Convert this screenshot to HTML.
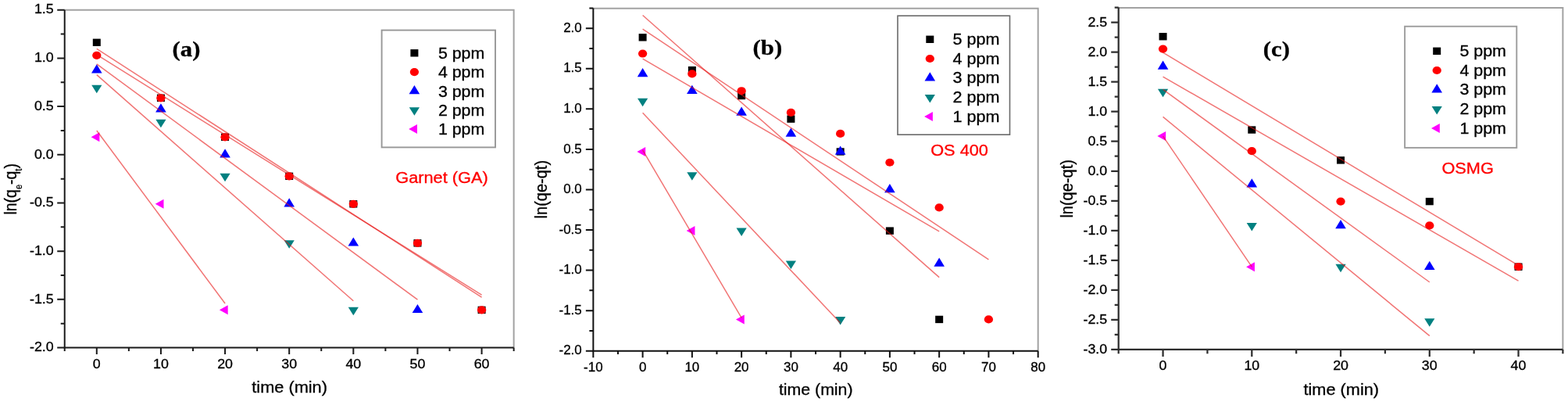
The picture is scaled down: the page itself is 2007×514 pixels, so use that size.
<!DOCTYPE html>
<html><head><meta charset="utf-8"><title>Kinetic plots</title>
<style>html,body{margin:0;padding:0;background:#fff;} svg{display:block;}</style>
</head><body>
<svg width="2007" height="514" viewBox="0 0 2007 514">

<rect width="2007" height="514" fill="#fff"/>
<g>
<rect width="2007" height="514" fill="#fff"/>
<path d="M82.73,12.75 H657.64 V444.54" fill="none" stroke="#a2a2a2" stroke-width="2"/>
<rect x="118.80" y="49.60" width="10.0" height="9.4" fill="#000"/>
<rect x="200.93" y="120.58" width="10.0" height="9.4" fill="#000"/>
<rect x="283.06" y="170.61" width="10.0" height="9.4" fill="#000"/>
<rect x="365.19" y="220.63" width="10.0" height="9.4" fill="#000"/>
<rect x="447.32" y="256.12" width="10.0" height="9.4" fill="#000"/>
<rect x="529.45" y="306.14" width="10.0" height="9.4" fill="#000"/>
<rect x="611.58" y="391.66" width="10.0" height="9.4" fill="#000"/>
<ellipse cx="123.80" cy="70.78" rx="5.65" ry="5.1" fill="#ff0000"/>
<ellipse cx="205.93" cy="125.28" rx="5.65" ry="5.1" fill="#ff0000"/>
<ellipse cx="288.06" cy="175.31" rx="5.65" ry="5.1" fill="#ff0000"/>
<ellipse cx="370.19" cy="225.33" rx="5.65" ry="5.1" fill="#ff0000"/>
<ellipse cx="452.32" cy="260.82" rx="5.65" ry="5.1" fill="#ff0000"/>
<ellipse cx="534.45" cy="310.84" rx="5.65" ry="5.1" fill="#ff0000"/>
<ellipse cx="616.58" cy="396.36" rx="5.65" ry="5.1" fill="#ff0000"/>
<polygon points="117.00,93.53 130.60,93.53 123.80,82.33" fill="#0000ff"/>
<polygon points="199.13,143.55 212.73,143.55 205.93,132.35" fill="#0000ff"/>
<polygon points="281.26,201.53 294.86,201.53 288.06,190.33" fill="#0000ff"/>
<polygon points="363.39,264.55 376.99,264.55 370.19,253.35" fill="#0000ff"/>
<polygon points="445.52,314.58 459.12,314.58 452.32,303.38" fill="#0000ff"/>
<polygon points="527.65,400.09 541.25,400.09 534.45,388.89" fill="#0000ff"/>
<polygon points="117.20,108.79 130.40,108.79 123.80,119.29" fill="#008080"/>
<polygon points="199.33,152.79 212.53,152.79 205.93,163.29" fill="#008080"/>
<polygon points="281.46,221.83 294.66,221.83 288.06,232.33" fill="#008080"/>
<polygon points="363.59,307.34 376.79,307.34 370.19,317.84" fill="#008080"/>
<polygon points="445.72,392.86 458.92,392.86 452.32,403.36" fill="#008080"/>
<polygon points="127.40,169.31 127.40,181.31 116.60,175.31" fill="#ff00ff"/>
<polygon points="209.53,254.82 209.53,266.82 198.73,260.82" fill="#ff00ff"/>
<polygon points="291.66,390.36 291.66,402.36 280.86,396.36" fill="#ff00ff"/>
<line x1="123.80" y1="62.31" x2="616.58" y2="380.05" stroke="#e81818" stroke-width="1.5" stroke-opacity="0.6"/>
<line x1="123.80" y1="69.96" x2="616.58" y2="377.11" stroke="#e81818" stroke-width="1.5" stroke-opacity="0.6"/>
<line x1="123.80" y1="81.93" x2="534.45" y2="383.21" stroke="#e81818" stroke-width="1.5" stroke-opacity="0.6"/>
<line x1="123.80" y1="95.68" x2="452.32" y2="384.76" stroke="#e81818" stroke-width="1.5" stroke-opacity="0.6"/>
<line x1="123.80" y1="166.97" x2="288.06" y2="388.02" stroke="#e81818" stroke-width="1.5" stroke-opacity="0.6"/>
<path d="M82.73,12.75 V444.54 H657.64" fill="none" stroke="#1a1a1a" stroke-width="2.0"/>
<path d="M123.80,444.54v8.5 M205.93,444.54v8.5 M288.06,444.54v8.5 M370.19,444.54v8.5 M452.32,444.54v8.5 M534.45,444.54v8.5 M616.58,444.54v8.5 M82.73,444.54v4.5 M164.87,444.54v4.5 M247.00,444.54v4.5 M329.12,444.54v4.5 M411.25,444.54v4.5 M493.38,444.54v4.5 M575.51,444.54v4.5 M657.64,444.54v4.5 M82.73,444.54h-9.5 M82.73,382.86h-9.5 M82.73,321.17h-9.5 M82.73,259.49h-9.5 M82.73,197.80h-9.5 M82.73,136.12h-9.5 M82.73,74.43h-9.5 M82.73,12.75h-9.5 M82.73,413.70h-5 M82.73,352.01h-5 M82.73,290.33h-5 M82.73,228.64h-5 M82.73,166.96h-5 M82.73,105.27h-5 M82.73,43.59h-5" stroke="#1a1a1a" stroke-width="2.0" fill="none"/>
<text transform="translate(123.80,470.54) scale(1.115,1)" text-anchor="middle" font-family='"Liberation Sans", Arial, sans-serif' font-size="16.0" font-weight="normal" fill="#000" stroke="#000" stroke-width="0.3">0</text>
<text transform="translate(205.93,470.54) scale(1.115,1)" text-anchor="middle" font-family='"Liberation Sans", Arial, sans-serif' font-size="16.0" font-weight="normal" fill="#000" stroke="#000" stroke-width="0.3">10</text>
<text transform="translate(288.06,470.54) scale(1.115,1)" text-anchor="middle" font-family='"Liberation Sans", Arial, sans-serif' font-size="16.0" font-weight="normal" fill="#000" stroke="#000" stroke-width="0.3">20</text>
<text transform="translate(370.19,470.54) scale(1.115,1)" text-anchor="middle" font-family='"Liberation Sans", Arial, sans-serif' font-size="16.0" font-weight="normal" fill="#000" stroke="#000" stroke-width="0.3">30</text>
<text transform="translate(452.32,470.54) scale(1.115,1)" text-anchor="middle" font-family='"Liberation Sans", Arial, sans-serif' font-size="16.0" font-weight="normal" fill="#000" stroke="#000" stroke-width="0.3">40</text>
<text transform="translate(534.45,470.54) scale(1.115,1)" text-anchor="middle" font-family='"Liberation Sans", Arial, sans-serif' font-size="16.0" font-weight="normal" fill="#000" stroke="#000" stroke-width="0.3">50</text>
<text transform="translate(616.58,470.54) scale(1.115,1)" text-anchor="middle" font-family='"Liberation Sans", Arial, sans-serif' font-size="16.0" font-weight="normal" fill="#000" stroke="#000" stroke-width="0.3">60</text>
<text transform="translate(68.73,449.24) scale(1.115,1)" text-anchor="end" font-family='"Liberation Sans", Arial, sans-serif' font-size="16.0" font-weight="normal" fill="#000" stroke="#000" stroke-width="0.3">-2.0</text>
<text transform="translate(68.73,387.56) scale(1.115,1)" text-anchor="end" font-family='"Liberation Sans", Arial, sans-serif' font-size="16.0" font-weight="normal" fill="#000" stroke="#000" stroke-width="0.3">-1.5</text>
<text transform="translate(68.73,325.87) scale(1.115,1)" text-anchor="end" font-family='"Liberation Sans", Arial, sans-serif' font-size="16.0" font-weight="normal" fill="#000" stroke="#000" stroke-width="0.3">-1.0</text>
<text transform="translate(68.73,264.19) scale(1.115,1)" text-anchor="end" font-family='"Liberation Sans", Arial, sans-serif' font-size="16.0" font-weight="normal" fill="#000" stroke="#000" stroke-width="0.3">-0.5</text>
<text transform="translate(68.73,202.50) scale(1.115,1)" text-anchor="end" font-family='"Liberation Sans", Arial, sans-serif' font-size="16.0" font-weight="normal" fill="#000" stroke="#000" stroke-width="0.3">0.0</text>
<text transform="translate(68.73,140.81) scale(1.115,1)" text-anchor="end" font-family='"Liberation Sans", Arial, sans-serif' font-size="16.0" font-weight="normal" fill="#000" stroke="#000" stroke-width="0.3">0.5</text>
<text transform="translate(68.73,79.13) scale(1.115,1)" text-anchor="end" font-family='"Liberation Sans", Arial, sans-serif' font-size="16.0" font-weight="normal" fill="#000" stroke="#000" stroke-width="0.3">1.0</text>
<text transform="translate(68.73,17.45) scale(1.115,1)" text-anchor="end" font-family='"Liberation Sans", Arial, sans-serif' font-size="16.0" font-weight="normal" fill="#000" stroke="#000" stroke-width="0.3">1.5</text>
<rect x="488.6" y="38.6" width="145.40" height="149.80" fill="none" stroke="#979797" stroke-width="1.9"/>
<rect x="525.40" y="63.10" width="10.0" height="9.4" fill="#000"/>
<text transform="translate(560.90,74.90) scale(1.097,1)" text-anchor="start" font-family='"Liberation Sans", Arial, sans-serif' font-size="19.5" font-weight="normal" fill="#000" stroke="#000" stroke-width="0.3">5 ppm</text>
<ellipse cx="530.40" cy="92.10" rx="5.65" ry="5.1" fill="#ff0000"/>
<text transform="translate(560.90,99.20) scale(1.097,1)" text-anchor="start" font-family='"Liberation Sans", Arial, sans-serif' font-size="19.5" font-weight="normal" fill="#000" stroke="#000" stroke-width="0.3">4 ppm</text>
<polygon points="523.60,120.13 537.20,120.13 530.40,108.93" fill="#0000ff"/>
<text transform="translate(560.90,123.50) scale(1.097,1)" text-anchor="start" font-family='"Liberation Sans", Arial, sans-serif' font-size="19.5" font-weight="normal" fill="#000" stroke="#000" stroke-width="0.3">3 ppm</text>
<polygon points="523.80,137.20 537.00,137.20 530.40,147.70" fill="#008080"/>
<text transform="translate(560.90,147.80) scale(1.097,1)" text-anchor="start" font-family='"Liberation Sans", Arial, sans-serif' font-size="19.5" font-weight="normal" fill="#000" stroke="#000" stroke-width="0.3">2 ppm</text>
<polygon points="534.00,159.00 534.00,171.00 523.20,165.00" fill="#ff00ff"/>
<text transform="translate(560.90,172.10) scale(1.097,1)" text-anchor="start" font-family='"Liberation Sans", Arial, sans-serif' font-size="19.5" font-weight="normal" fill="#000" stroke="#000" stroke-width="0.3">1 ppm</text>
<text transform="translate(220.50,72.10) scale(1.12,1)" text-anchor="start" font-family='"Liberation Serif", "Times New Roman", serif' font-size="27.5" font-weight="bold" fill="#000" stroke="#000" stroke-width="0.3">(a)</text>
<text transform="translate(506.30,233.80) scale(1.115,1)" text-anchor="start" font-family='"Liberation Sans", Arial, sans-serif' font-size="19.5" font-weight="normal" fill="#ff0000" stroke="#ff0000" stroke-width="0.3">Garnet (GA)</text>
<text transform="translate(322.30,501.80) scale(1.115,1)" text-anchor="start" font-family='"Liberation Sans", Arial, sans-serif' font-size="19.5" font-weight="normal" fill="#000" stroke="#000" stroke-width="0.3">time (min)</text>
<path d="M759.34,10.70 H1328.68 V448.70" fill="none" stroke="#a2a2a2" stroke-width="2"/>
<rect x="817.60" y="43.13" width="10.0" height="9.4" fill="#000"/>
<rect x="880.86" y="84.94" width="10.0" height="9.4" fill="#000"/>
<rect x="944.12" y="117.78" width="10.0" height="9.4" fill="#000"/>
<rect x="1007.38" y="147.45" width="10.0" height="9.4" fill="#000"/>
<rect x="1070.64" y="189.27" width="10.0" height="9.4" fill="#000"/>
<rect x="1133.90" y="290.42" width="10.0" height="9.4" fill="#000"/>
<rect x="1197.16" y="403.72" width="10.0" height="9.4" fill="#000"/>
<ellipse cx="822.60" cy="68.52" rx="5.65" ry="5.1" fill="#ff0000"/>
<ellipse cx="885.86" cy="94.44" rx="5.65" ry="5.1" fill="#ff0000"/>
<ellipse cx="949.12" cy="116.23" rx="5.65" ry="5.1" fill="#ff0000"/>
<ellipse cx="1012.38" cy="143.90" rx="5.65" ry="5.1" fill="#ff0000"/>
<ellipse cx="1075.64" cy="170.96" rx="5.65" ry="5.1" fill="#ff0000"/>
<ellipse cx="1138.90" cy="207.74" rx="5.65" ry="5.1" fill="#ff0000"/>
<ellipse cx="1202.16" cy="265.45" rx="5.65" ry="5.1" fill="#ff0000"/>
<ellipse cx="1265.42" cy="408.42" rx="5.65" ry="5.1" fill="#ff0000"/>
<polygon points="815.80,98.17 829.40,98.17 822.60,86.97" fill="#0000ff"/>
<polygon points="879.06,119.97 892.66,119.97 885.86,108.77" fill="#0000ff"/>
<polygon points="942.32,147.63 955.92,147.63 949.12,136.43" fill="#0000ff"/>
<polygon points="1005.58,174.69 1019.18,174.69 1012.38,163.49" fill="#0000ff"/>
<polygon points="1068.84,197.70 1082.44,197.70 1075.64,186.50" fill="#0000ff"/>
<polygon points="1132.10,246.17 1145.70,246.17 1138.90,234.97" fill="#0000ff"/>
<polygon points="1195.36,340.67 1208.96,340.67 1202.16,329.47" fill="#0000ff"/>
<polygon points="816.00,125.64 829.20,125.64 822.60,136.14" fill="#008080"/>
<polygon points="879.26,220.14 892.46,220.14 885.86,230.64" fill="#008080"/>
<polygon points="942.52,291.62 955.72,291.62 949.12,302.12" fill="#008080"/>
<polygon points="1005.78,333.44 1018.98,333.44 1012.38,343.94" fill="#008080"/>
<polygon points="1069.04,404.92 1082.24,404.92 1075.64,415.42" fill="#008080"/>
<polygon points="826.20,187.97 826.20,199.97 815.40,193.97" fill="#ff00ff"/>
<polygon points="889.46,289.12 889.46,301.12 878.66,295.12" fill="#ff00ff"/>
<polygon points="952.72,402.42 952.72,414.42 941.92,408.42" fill="#ff00ff"/>
<line x1="822.60" y1="19.49" x2="1202.16" y2="354.68" stroke="#e81818" stroke-width="1.5" stroke-opacity="0.6"/>
<line x1="822.60" y1="37.13" x2="1265.42" y2="331.79" stroke="#e81818" stroke-width="1.5" stroke-opacity="0.6"/>
<line x1="822.60" y1="75.20" x2="1202.16" y2="295.91" stroke="#e81818" stroke-width="1.5" stroke-opacity="0.6"/>
<line x1="822.60" y1="144.28" x2="1075.64" y2="413.02" stroke="#e81818" stroke-width="1.5" stroke-opacity="0.6"/>
<line x1="822.60" y1="191.94" x2="949.12" y2="406.40" stroke="#e81818" stroke-width="1.5" stroke-opacity="0.6"/>
<path d="M759.34,10.40 V448.70 H1328.68" fill="none" stroke="#111111" stroke-width="2.0"/>
<path d="M759.34,448.70v8.5 M822.60,448.70v8.5 M885.86,448.70v8.5 M949.12,448.70v8.5 M1012.38,448.70v8.5 M1075.64,448.70v8.5 M1138.90,448.70v8.5 M1202.16,448.70v8.5 M1265.42,448.70v8.5 M1328.68,448.70v8.5 M790.97,448.70v4.2 M854.23,448.70v4.2 M917.49,448.70v4.2 M980.75,448.70v4.2 M1044.01,448.70v4.2 M1107.27,448.70v4.2 M1170.53,448.70v4.2 M1233.79,448.70v4.2 M1297.05,448.70v4.2 M759.34,448.70h-9.5 M759.34,397.13h-9.5 M759.34,345.57h-9.5 M759.34,294.00h-9.5 M759.34,242.44h-9.5 M759.34,190.88h-9.5 M759.34,139.31h-9.5 M759.34,87.75h-9.5 M759.34,36.18h-9.5 M759.34,422.92h-5 M759.34,371.35h-5 M759.34,319.79h-5 M759.34,268.22h-5 M759.34,216.66h-5 M759.34,165.09h-5 M759.34,113.53h-5 M759.34,61.96h-5 M759.34,10.40h-5" stroke="#111111" stroke-width="2.0" fill="none"/>
<text transform="translate(759.34,474.70) scale(1.06,1)" text-anchor="middle" font-family='"Liberation Sans", Arial, sans-serif' font-size="16.0" font-weight="normal" fill="#000" stroke="#000" stroke-width="0.3">-10</text>
<text transform="translate(822.60,474.70) scale(1.06,1)" text-anchor="middle" font-family='"Liberation Sans", Arial, sans-serif' font-size="16.0" font-weight="normal" fill="#000" stroke="#000" stroke-width="0.3">0</text>
<text transform="translate(885.86,474.70) scale(1.06,1)" text-anchor="middle" font-family='"Liberation Sans", Arial, sans-serif' font-size="16.0" font-weight="normal" fill="#000" stroke="#000" stroke-width="0.3">10</text>
<text transform="translate(949.12,474.70) scale(1.06,1)" text-anchor="middle" font-family='"Liberation Sans", Arial, sans-serif' font-size="16.0" font-weight="normal" fill="#000" stroke="#000" stroke-width="0.3">20</text>
<text transform="translate(1012.38,474.70) scale(1.06,1)" text-anchor="middle" font-family='"Liberation Sans", Arial, sans-serif' font-size="16.0" font-weight="normal" fill="#000" stroke="#000" stroke-width="0.3">30</text>
<text transform="translate(1075.64,474.70) scale(1.06,1)" text-anchor="middle" font-family='"Liberation Sans", Arial, sans-serif' font-size="16.0" font-weight="normal" fill="#000" stroke="#000" stroke-width="0.3">40</text>
<text transform="translate(1138.90,474.70) scale(1.06,1)" text-anchor="middle" font-family='"Liberation Sans", Arial, sans-serif' font-size="16.0" font-weight="normal" fill="#000" stroke="#000" stroke-width="0.3">50</text>
<text transform="translate(1202.16,474.70) scale(1.06,1)" text-anchor="middle" font-family='"Liberation Sans", Arial, sans-serif' font-size="16.0" font-weight="normal" fill="#000" stroke="#000" stroke-width="0.3">60</text>
<text transform="translate(1265.42,474.70) scale(1.06,1)" text-anchor="middle" font-family='"Liberation Sans", Arial, sans-serif' font-size="16.0" font-weight="normal" fill="#000" stroke="#000" stroke-width="0.3">70</text>
<text transform="translate(1328.68,474.70) scale(1.06,1)" text-anchor="middle" font-family='"Liberation Sans", Arial, sans-serif' font-size="16.0" font-weight="normal" fill="#000" stroke="#000" stroke-width="0.3">80</text>
<text transform="translate(744.74,453.40) scale(1.06,1)" text-anchor="end" font-family='"Liberation Sans", Arial, sans-serif' font-size="16.0" font-weight="normal" fill="#000" stroke="#000" stroke-width="0.3">-2.0</text>
<text transform="translate(744.74,401.83) scale(1.06,1)" text-anchor="end" font-family='"Liberation Sans", Arial, sans-serif' font-size="16.0" font-weight="normal" fill="#000" stroke="#000" stroke-width="0.3">-1.5</text>
<text transform="translate(744.74,350.27) scale(1.06,1)" text-anchor="end" font-family='"Liberation Sans", Arial, sans-serif' font-size="16.0" font-weight="normal" fill="#000" stroke="#000" stroke-width="0.3">-1.0</text>
<text transform="translate(744.74,298.70) scale(1.06,1)" text-anchor="end" font-family='"Liberation Sans", Arial, sans-serif' font-size="16.0" font-weight="normal" fill="#000" stroke="#000" stroke-width="0.3">-0.5</text>
<text transform="translate(744.74,247.14) scale(1.06,1)" text-anchor="end" font-family='"Liberation Sans", Arial, sans-serif' font-size="16.0" font-weight="normal" fill="#000" stroke="#000" stroke-width="0.3">0.0</text>
<text transform="translate(744.74,195.57) scale(1.06,1)" text-anchor="end" font-family='"Liberation Sans", Arial, sans-serif' font-size="16.0" font-weight="normal" fill="#000" stroke="#000" stroke-width="0.3">0.5</text>
<text transform="translate(744.74,144.01) scale(1.06,1)" text-anchor="end" font-family='"Liberation Sans", Arial, sans-serif' font-size="16.0" font-weight="normal" fill="#000" stroke="#000" stroke-width="0.3">1.0</text>
<text transform="translate(744.74,92.45) scale(1.06,1)" text-anchor="end" font-family='"Liberation Sans", Arial, sans-serif' font-size="16.0" font-weight="normal" fill="#000" stroke="#000" stroke-width="0.3">1.5</text>
<text transform="translate(744.74,40.88) scale(1.06,1)" text-anchor="end" font-family='"Liberation Sans", Arial, sans-serif' font-size="16.0" font-weight="normal" fill="#000" stroke="#000" stroke-width="0.3">2.0</text>
<rect x="1149.0" y="20.2" width="143.50" height="152.00" fill="none" stroke="#6a6a6a" stroke-width="1.6"/>
<rect x="1185.30" y="45.60" width="10.0" height="9.4" fill="#000"/>
<text transform="translate(1219.60,56.80) scale(1.108,1)" text-anchor="start" font-family='"Liberation Sans", Arial, sans-serif' font-size="19.5" font-weight="normal" fill="#000" stroke="#000" stroke-width="0.3">5 ppm</text>
<ellipse cx="1190.30" cy="75.00" rx="5.65" ry="5.1" fill="#ff0000"/>
<text transform="translate(1219.60,81.50) scale(1.108,1)" text-anchor="start" font-family='"Liberation Sans", Arial, sans-serif' font-size="19.5" font-weight="normal" fill="#000" stroke="#000" stroke-width="0.3">4 ppm</text>
<polygon points="1183.50,103.43 1197.10,103.43 1190.30,92.23" fill="#0000ff"/>
<text transform="translate(1219.60,106.20) scale(1.108,1)" text-anchor="start" font-family='"Liberation Sans", Arial, sans-serif' font-size="19.5" font-weight="normal" fill="#000" stroke="#000" stroke-width="0.3">3 ppm</text>
<polygon points="1183.70,120.90 1196.90,120.90 1190.30,131.40" fill="#008080"/>
<text transform="translate(1219.60,130.90) scale(1.108,1)" text-anchor="start" font-family='"Liberation Sans", Arial, sans-serif' font-size="19.5" font-weight="normal" fill="#000" stroke="#000" stroke-width="0.3">2 ppm</text>
<polygon points="1193.90,143.10 1193.90,155.10 1183.10,149.10" fill="#ff00ff"/>
<text transform="translate(1219.60,155.60) scale(1.108,1)" text-anchor="start" font-family='"Liberation Sans", Arial, sans-serif' font-size="19.5" font-weight="normal" fill="#000" stroke="#000" stroke-width="0.3">1 ppm</text>
<text transform="translate(963.50,70.00) scale(1.12,1)" text-anchor="start" font-family='"Liberation Serif", "Times New Roman", serif' font-size="27.5" font-weight="bold" fill="#000" stroke="#000" stroke-width="0.3">(b)</text>
<text transform="translate(1191.20,198.60) scale(1.115,1)" text-anchor="start" font-family='"Liberation Sans", Arial, sans-serif' font-size="19.5" font-weight="normal" fill="#ff0000" stroke="#ff0000" stroke-width="0.3">OS 400</text>
<text transform="translate(996.90,505.00) scale(1.093,1)" text-anchor="start" font-family='"Liberation Sans", Arial, sans-serif' font-size="19.5" font-weight="normal" fill="#000" stroke="#000" stroke-width="0.3">time (min)</text>
<path d="M1431.70,10.11 H2000.40 V446.90" fill="none" stroke="#a2a2a2" stroke-width="2"/>
<rect x="1483.57" y="42.04" width="10.0" height="9.4" fill="#000"/>
<rect x="1597.31" y="161.34" width="10.0" height="9.4" fill="#000"/>
<rect x="1711.05" y="200.18" width="10.0" height="9.4" fill="#000"/>
<rect x="1824.79" y="252.90" width="10.0" height="9.4" fill="#000"/>
<rect x="1938.53" y="336.45" width="10.0" height="9.4" fill="#000"/>
<ellipse cx="1488.57" cy="62.53" rx="5.65" ry="5.1" fill="#ff0000"/>
<ellipse cx="1602.31" cy="193.16" rx="5.65" ry="5.1" fill="#ff0000"/>
<ellipse cx="1716.05" cy="257.60" rx="5.65" ry="5.1" fill="#ff0000"/>
<ellipse cx="1829.79" cy="288.43" rx="5.65" ry="5.1" fill="#ff0000"/>
<ellipse cx="1943.53" cy="341.15" rx="5.65" ry="5.1" fill="#ff0000"/>
<polygon points="1481.77,88.80 1495.37,88.80 1488.57,77.60" fill="#0000ff"/>
<polygon points="1595.51,239.45 1609.11,239.45 1602.31,228.25" fill="#0000ff"/>
<polygon points="1709.25,292.17 1722.85,292.17 1716.05,280.97" fill="#0000ff"/>
<polygon points="1822.99,344.88 1836.59,344.88 1829.79,333.68" fill="#0000ff"/>
<polygon points="1481.97,113.72 1495.17,113.72 1488.57,124.22" fill="#008080"/>
<polygon points="1595.71,284.93 1608.91,284.93 1602.31,295.43" fill="#008080"/>
<polygon points="1709.45,337.65 1722.65,337.65 1716.05,348.15" fill="#008080"/>
<polygon points="1823.19,407.33 1836.39,407.33 1829.79,417.83" fill="#008080"/>
<polygon points="1492.17,168.05 1492.17,180.05 1481.37,174.05" fill="#ff00ff"/>
<polygon points="1605.91,335.15 1605.91,347.15 1595.11,341.15" fill="#ff00ff"/>
<line x1="1488.57" y1="67.21" x2="1943.53" y2="339.36" stroke="#e81818" stroke-width="1.5" stroke-opacity="0.6"/>
<line x1="1488.57" y1="98.07" x2="1943.53" y2="359.08" stroke="#e81818" stroke-width="1.5" stroke-opacity="0.6"/>
<line x1="1488.57" y1="114.45" x2="1829.79" y2="360.74" stroke="#e81818" stroke-width="1.5" stroke-opacity="0.6"/>
<line x1="1488.57" y1="149.38" x2="1829.79" y2="429.44" stroke="#e81818" stroke-width="1.5" stroke-opacity="0.6"/>
<line x1="1488.57" y1="174.05" x2="1602.31" y2="341.15" stroke="#e81818" stroke-width="1.5" stroke-opacity="0.6"/>
<path d="M1431.70,9.61 V446.90 H2000.40" fill="none" stroke="#2e2e2e" stroke-width="2.25"/>
<path d="M1488.57,446.90v9.2 M1602.31,446.90v9.2 M1716.05,446.90v9.2 M1829.79,446.90v9.2 M1943.53,446.90v9.2 M1431.70,446.90v5.4 M1545.44,446.90v5.4 M1659.18,446.90v5.4 M1772.92,446.90v5.4 M1886.66,446.90v5.4 M2000.40,446.90v5.4 M1431.70,446.90h-9.5 M1431.70,408.88h-9.5 M1431.70,370.85h-9.5 M1431.70,332.82h-9.5 M1431.70,294.80h-9.5 M1431.70,256.77h-9.5 M1431.70,218.75h-9.5 M1431.70,180.72h-9.5 M1431.70,142.70h-9.5 M1431.70,104.68h-9.5 M1431.70,66.65h-9.5 M1431.70,28.62h-9.5 M1431.70,427.89h-5 M1431.70,389.86h-5 M1431.70,351.84h-5 M1431.70,313.81h-5 M1431.70,275.79h-5 M1431.70,237.76h-5 M1431.70,199.74h-5 M1431.70,161.71h-5 M1431.70,123.69h-5 M1431.70,85.66h-5 M1431.70,47.64h-5 M1431.70,9.61h-5" stroke="#2e2e2e" stroke-width="2.25" fill="none"/>
<text transform="translate(1488.57,472.90) scale(1.115,1)" text-anchor="middle" font-family='"Liberation Sans", Arial, sans-serif' font-size="16.0" font-weight="normal" fill="#000" stroke="#000" stroke-width="0.3">0</text>
<text transform="translate(1602.31,472.90) scale(1.115,1)" text-anchor="middle" font-family='"Liberation Sans", Arial, sans-serif' font-size="16.0" font-weight="normal" fill="#000" stroke="#000" stroke-width="0.3">10</text>
<text transform="translate(1716.05,472.90) scale(1.115,1)" text-anchor="middle" font-family='"Liberation Sans", Arial, sans-serif' font-size="16.0" font-weight="normal" fill="#000" stroke="#000" stroke-width="0.3">20</text>
<text transform="translate(1829.79,472.90) scale(1.115,1)" text-anchor="middle" font-family='"Liberation Sans", Arial, sans-serif' font-size="16.0" font-weight="normal" fill="#000" stroke="#000" stroke-width="0.3">30</text>
<text transform="translate(1943.53,472.90) scale(1.115,1)" text-anchor="middle" font-family='"Liberation Sans", Arial, sans-serif' font-size="16.0" font-weight="normal" fill="#000" stroke="#000" stroke-width="0.3">40</text>
<text transform="translate(1417.20,452.00) scale(1.115,1)" text-anchor="end" font-family='"Liberation Sans", Arial, sans-serif' font-size="16.0" font-weight="normal" fill="#000" stroke="#000" stroke-width="0.3">-3.0</text>
<text transform="translate(1417.20,413.98) scale(1.115,1)" text-anchor="end" font-family='"Liberation Sans", Arial, sans-serif' font-size="16.0" font-weight="normal" fill="#000" stroke="#000" stroke-width="0.3">-2.5</text>
<text transform="translate(1417.20,375.95) scale(1.115,1)" text-anchor="end" font-family='"Liberation Sans", Arial, sans-serif' font-size="16.0" font-weight="normal" fill="#000" stroke="#000" stroke-width="0.3">-2.0</text>
<text transform="translate(1417.20,337.93) scale(1.115,1)" text-anchor="end" font-family='"Liberation Sans", Arial, sans-serif' font-size="16.0" font-weight="normal" fill="#000" stroke="#000" stroke-width="0.3">-1.5</text>
<text transform="translate(1417.20,299.90) scale(1.115,1)" text-anchor="end" font-family='"Liberation Sans", Arial, sans-serif' font-size="16.0" font-weight="normal" fill="#000" stroke="#000" stroke-width="0.3">-1.0</text>
<text transform="translate(1417.20,261.88) scale(1.115,1)" text-anchor="end" font-family='"Liberation Sans", Arial, sans-serif' font-size="16.0" font-weight="normal" fill="#000" stroke="#000" stroke-width="0.3">-0.5</text>
<text transform="translate(1417.20,223.85) scale(1.115,1)" text-anchor="end" font-family='"Liberation Sans", Arial, sans-serif' font-size="16.0" font-weight="normal" fill="#000" stroke="#000" stroke-width="0.3">0.0</text>
<text transform="translate(1417.20,185.82) scale(1.115,1)" text-anchor="end" font-family='"Liberation Sans", Arial, sans-serif' font-size="16.0" font-weight="normal" fill="#000" stroke="#000" stroke-width="0.3">0.5</text>
<text transform="translate(1417.20,147.80) scale(1.115,1)" text-anchor="end" font-family='"Liberation Sans", Arial, sans-serif' font-size="16.0" font-weight="normal" fill="#000" stroke="#000" stroke-width="0.3">1.0</text>
<text transform="translate(1417.20,109.78) scale(1.115,1)" text-anchor="end" font-family='"Liberation Sans", Arial, sans-serif' font-size="16.0" font-weight="normal" fill="#000" stroke="#000" stroke-width="0.3">1.5</text>
<text transform="translate(1417.20,71.75) scale(1.115,1)" text-anchor="end" font-family='"Liberation Sans", Arial, sans-serif' font-size="16.0" font-weight="normal" fill="#000" stroke="#000" stroke-width="0.3">2.0</text>
<text transform="translate(1417.20,33.73) scale(1.115,1)" text-anchor="end" font-family='"Liberation Sans", Arial, sans-serif' font-size="16.0" font-weight="normal" fill="#000" stroke="#000" stroke-width="0.3">2.5</text>
<rect x="1798.1" y="33.75" width="143.20" height="155.15" fill="none" stroke="#9c9c9c" stroke-width="1.9"/>
<rect x="1834.20" y="60.60" width="10.0" height="9.4" fill="#000"/>
<text transform="translate(1868.40,71.80) scale(1.1,1)" text-anchor="start" font-family='"Liberation Sans", Arial, sans-serif' font-size="19.5" font-weight="normal" fill="#000" stroke="#000" stroke-width="0.3">5 ppm</text>
<ellipse cx="1839.20" cy="90.00" rx="5.65" ry="5.1" fill="#ff0000"/>
<text transform="translate(1868.40,96.50) scale(1.1,1)" text-anchor="start" font-family='"Liberation Sans", Arial, sans-serif' font-size="19.5" font-weight="normal" fill="#000" stroke="#000" stroke-width="0.3">4 ppm</text>
<polygon points="1832.40,118.43 1846.00,118.43 1839.20,107.23" fill="#0000ff"/>
<text transform="translate(1868.40,121.20) scale(1.1,1)" text-anchor="start" font-family='"Liberation Sans", Arial, sans-serif' font-size="19.5" font-weight="normal" fill="#000" stroke="#000" stroke-width="0.3">3 ppm</text>
<polygon points="1832.60,135.90 1845.80,135.90 1839.20,146.40" fill="#008080"/>
<text transform="translate(1868.40,145.90) scale(1.1,1)" text-anchor="start" font-family='"Liberation Sans", Arial, sans-serif' font-size="19.5" font-weight="normal" fill="#000" stroke="#000" stroke-width="0.3">2 ppm</text>
<polygon points="1842.80,158.10 1842.80,170.10 1832.00,164.10" fill="#ff00ff"/>
<text transform="translate(1868.40,170.60) scale(1.1,1)" text-anchor="start" font-family='"Liberation Sans", Arial, sans-serif' font-size="19.5" font-weight="normal" fill="#000" stroke="#000" stroke-width="0.3">1 ppm</text>
<text transform="translate(1616.80,72.00) scale(1.12,1)" text-anchor="start" font-family='"Liberation Serif", "Times New Roman", serif' font-size="27.5" font-weight="bold" fill="#000" stroke="#000" stroke-width="0.3">(c)</text>
<text transform="translate(1845.40,221.60) scale(1.115,1)" text-anchor="start" font-family='"Liberation Sans", Arial, sans-serif' font-size="19.5" font-weight="normal" fill="#ff0000" stroke="#ff0000" stroke-width="0.3">OSMG</text>
<text transform="translate(1668.50,505.10) scale(1.115,1)" text-anchor="start" font-family='"Liberation Sans", Arial, sans-serif' font-size="19.5" font-weight="normal" fill="#000" stroke="#000" stroke-width="0.3">time (min)</text>
<text transform="translate(20.6,274.6) rotate(-90) scale(1,1.115)" font-family='"Liberation Sans", Arial, sans-serif' font-size="19.5" stroke="#000" stroke-width="0.3">ln(q<tspan font-size="11" dy="7">e</tspan><tspan dy="-7">-q</tspan><tspan font-size="11" dy="7">t</tspan><tspan dy="-7">)</tspan></text>
<text transform="translate(700.0,279.4) rotate(-90) scale(1,1.115)" font-family='"Liberation Sans", Arial, sans-serif' font-size="20" stroke="#000" stroke-width="0.3">ln(qe-qt)</text>
<text transform="translate(1372.5,278.6) rotate(-90) scale(1,1.115)" font-family='"Liberation Sans", Arial, sans-serif' font-size="20" stroke="#000" stroke-width="0.3">ln(qe-qt)</text>
</g>
</svg>
</body></html>
